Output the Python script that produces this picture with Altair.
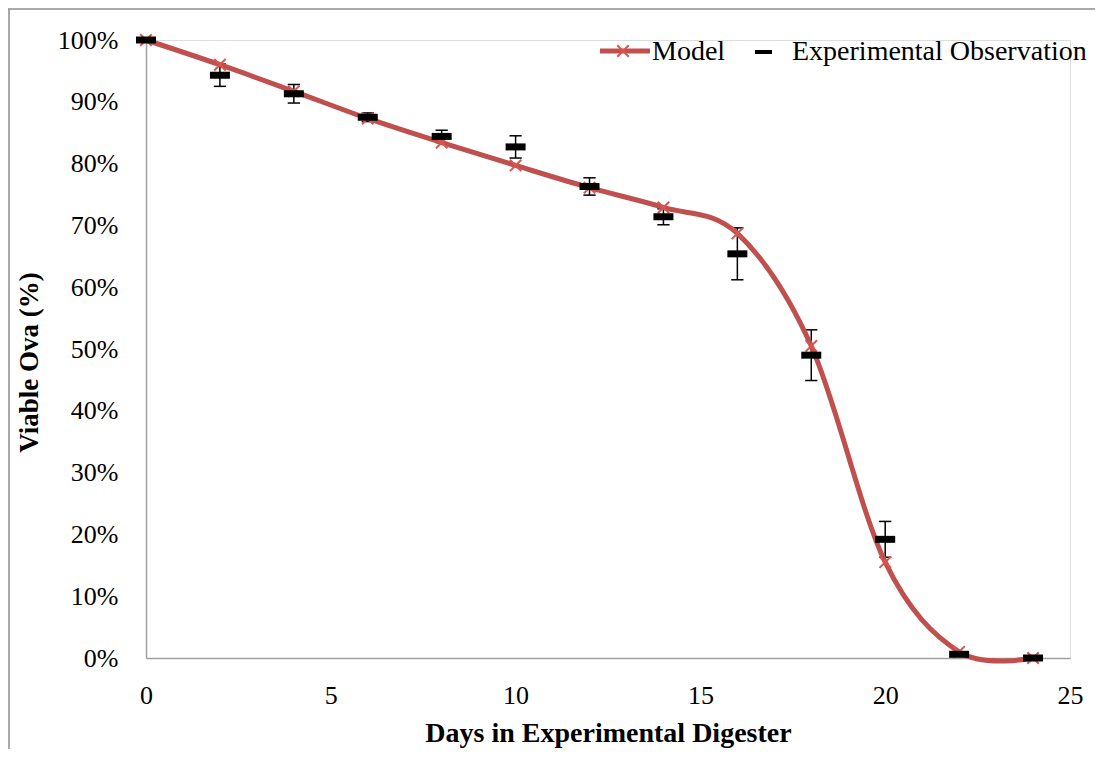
import altair as alt
import pandas as pd

# ---- data ----
days = [0, 2, 4, 6, 8, 10, 12, 14, 16, 18, 20, 22, 24]
model = [100.0, 96.0, 91.7, 87.3, 83.4, 79.7, 76.1, 72.9, 68.7, 50.5, 15.5, 1.0, 0.0]
observed = [100.0, 94.3, 91.3, 87.5, 84.4, 82.7, 76.3, 71.4, 65.4, 49.0, 19.2, 0.6, 0.0]
err = [0.0, 1.8, 1.5, 0.7, 1.0, 1.8, 1.4, 1.3, 4.2, 4.1, 2.9, 0.0, 0.0]
x_ticks = [0, 5, 10, 15, 20, 25]
y_ticks = [0, 10, 20, 30, 40, 50, 60, 70, 80, 90, 100]

df = pd.DataFrame({
    "day": days,
    "model": model,
    "obs": observed,
    "lo": [o - e for o, e in zip(observed, err)],
    "hi": [o + e for o, e in zip(observed, err)],
})

FONT = "Liberation Serif"
RED = "#c0504d"
AXIS_GRAY = "#a0a0a0"

xsc = alt.Scale(domain=[0, 25], nice=False, zero=False)
ysc = alt.Scale(domain=[0, 100], nice=False)

xax = alt.Axis(values=x_ticks, grid=False, ticks=False, tickSize=0,
               labelPadding=24, labelFontSize=26, labelFont=FONT,
               labelColor="black", labelFlush=False, labelOverlap=False,
               domainColor=AXIS_GRAY, domainWidth=1.5,
               titleFont=FONT, titleFontSize=28, titleFontWeight="bold",
               titleColor="black", titleY=83, titleBaseline="alphabetic")
yax = alt.Axis(values=y_ticks, grid=False, ticks=False, tickSize=0,
               labelPadding=28, labelFontSize=26, labelFont=FONT,
               labelColor="black", labelOverlap=False, labelFlush=False,
               labelExpr="datum.value + '%'",
               domainColor=AXIS_GRAY, domainWidth=1.5,
               titleFont=FONT, titleFontSize=27, titleFontWeight="bold",
               titleColor="black", titleX=-109, titleY=322, titleAngle=270,
               titleAlign="center", titleBaseline="alphabetic")

X = alt.X("day:Q", scale=xsc, axis=xax, title="Days in Experimental Digester")


def Y(field):
    return alt.Y(f"{field}:Q", scale=ysc, axis=yax, title="Viable Ova (%)")


base = alt.Chart(df)

errbars = base.mark_rule(color="black", strokeWidth=1.5).encode(
    x=X, y=Y("lo"), y2="hi:Q")
cap_lo = base.mark_point(shape="M-1,0L1,0", size=150, filled=False,
                         color="black", strokeWidth=1.5, opacity=1).encode(
    x=X, y=Y("lo"))
cap_hi = base.mark_point(shape="M-1,0L1,0", size=150, filled=False,
                         color="black", strokeWidth=1.5, opacity=1).encode(
    x=X, y=Y("hi"))
line = base.mark_line(interpolate="cardinal", color=RED, strokeWidth=5).encode(
    x=X, y=Y("model"))
xmarks = base.mark_point(shape="M-1,-1L1,1M-1,1L1,-1", size=130, filled=False,
                         color="#d95550", strokeWidth=2, opacity=1).encode(
    x=X, y=Y("model"))
dashes = base.mark_point(shape="M-1,-0.35L1,-0.35L1,0.35L-1,0.35Z", size=400,
                         filled=True, color="black", opacity=1,
                         strokeWidth=0).encode(x=X, y=Y("obs"))

# ---- legend (drawn inside the plot, top right) ----
one = alt.Chart(pd.DataFrame({"k": [0]}))
leg_line = one.mark_rule(color=RED, strokeWidth=5).encode(
    x=alt.value(454), x2=alt.value(504), y=alt.value(11))
leg_x = one.mark_point(shape="M-1,-1L1,1M-1,1L1,-1", size=130, filled=False,
                       color="#d95550", strokeWidth=2, opacity=1).encode(
    x=alt.value(477), y=alt.value(11))
leg_model = one.mark_text(text="Model", font=FONT, fontSize=28, align="left",
                          baseline="alphabetic", color="black").encode(
    x=alt.value(506), y=alt.value(20))
leg_dash = one.mark_rule(color="black", strokeWidth=4).encode(
    x=alt.value(609), x2=alt.value(626), y=alt.value(12))
leg_obs = one.mark_text(text="Experimental Observation", font=FONT,
                        fontSize=28, align="left", baseline="alphabetic",
                        color="black").encode(
    x=alt.value(646), y=alt.value(20))

# ---- outer frame ----
frame_left = one.mark_rule(color="#8c8c8c", strokeWidth=1.5).encode(
    x=alt.value(-137), y=alt.value(-31), y2=alt.value(720))
frame_top = one.mark_rule(color="#8c8c8c", strokeWidth=1.5).encode(
    x=alt.value(-138), x2=alt.value(960), y=alt.value(-31))

chart = alt.layer(
    errbars, cap_lo, cap_hi, line, xmarks, dashes,
    leg_line, leg_x, leg_model, leg_dash, leg_obs,
    frame_left, frame_top,
).properties(
    width=924, height=618,
    autosize=alt.AutoSizeParams(type="none"),
    padding={"left": 138, "top": 32, "right": 25, "bottom": 91},
).configure_view(stroke=None).configure(background="white")

chart.save("out.html", embed_options={"renderer": "svg", "actions": False})
